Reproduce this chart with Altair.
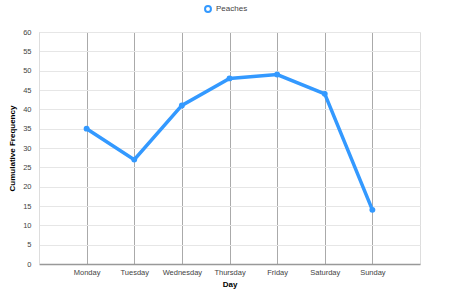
import altair as alt
import pandas as pd

days = ["Monday", "Tuesday", "Wednesday", "Thursday", "Friday", "Saturday", "Sunday"]
values = [35, 27, 41, 48, 49, 44, 14]
series_name = "Peaches"
y_ticks = list(range(0, 65, 5))

df = pd.DataFrame({"Day": days, "Cumulative Frequency": values, "Series": [series_name] * len(days)})

FONT = "Liberation Sans"
BLUE = "#3399ff"

x = alt.X(
    "Day:N", sort=days,
    scale=alt.Scale(type="point", padding=1),
    axis=alt.Axis(title="Day", grid=True, gridColor="#aaaaaa", gridWidth=1, ticks=False,
                  domainColor="#999999", domainWidth=1.5, labelAngle=0, labelFontSize=7.5,
                  labelColor="#444444", labelPadding=4, titleFontSize=8, titleFontWeight="bold",
                  titlePadding=5, labelFont=FONT, titleFont=FONT),
)
y = alt.Y(
    "Cumulative Frequency:Q",
    scale=alt.Scale(domain=[0, 60], nice=False),
    axis=alt.Axis(values=y_ticks, grid=True, gridColor="#e6e6e6", ticks=False, domainColor="#dddddd",
                  labelFontSize=7.5, labelColor="#444444", labelPadding=8, titleFontSize=8,
                  titleFontWeight="bold", titlePadding=6, labelFont=FONT, titleFont=FONT),
)
color = alt.Color(
    "Series:N",
    scale=alt.Scale(domain=[series_name], range=[BLUE]),
    legend=alt.Legend(title=None, orient="none", legendX=165, legendY=-27, symbolType="circle",
                      symbolFillColor="white", symbolStrokeColor=BLUE, symbolStrokeWidth=2,
                      symbolSize=35, labelFontSize=8, labelColor="#444444", labelFont=FONT),
)

line = alt.Chart(df).mark_line(strokeWidth=3.5).encode(x=x, y=y, color=color)
pts = alt.Chart(df).mark_circle(size=35, opacity=1, color=BLUE).encode(x=x, y=y)

chart = (line + pts).properties(
    width=381, height=232,
    autosize=alt.AutoSizeParams(type="none"),
    padding={"left": 39, "top": 32, "right": 30, "bottom": 35},
).configure_view(stroke="#dddddd", strokeWidth=1)

chart.save("out.html", embed_options={"renderer": "svg", "actions": False})
